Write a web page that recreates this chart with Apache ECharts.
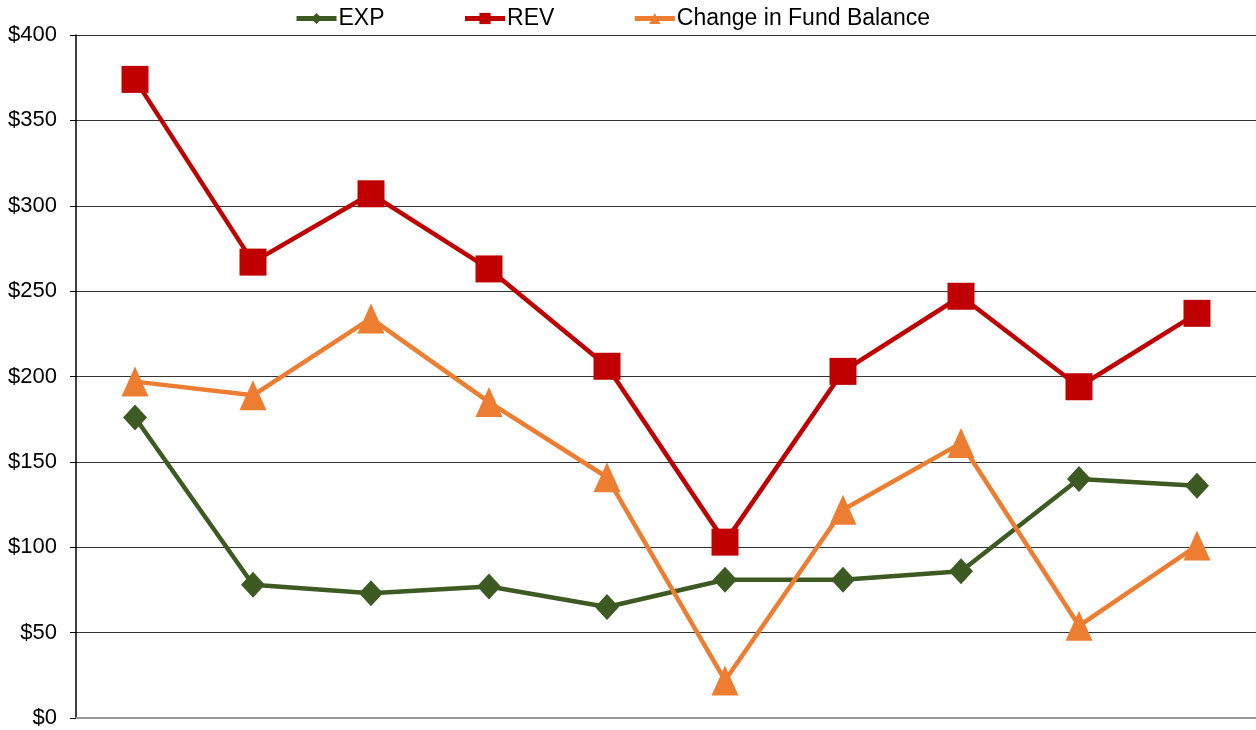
<!DOCTYPE html>
<html>
<head>
<meta charset="utf-8">
<script src="https://cdn.jsdelivr.net/npm/echarts@6/dist/echarts.min.js"></script>
<style>
  html, body { margin: 0; padding: 0; background: #fff; }
  #chart { width: 1256px; height: 730px; }
</style>
</head>
<body>
<div id="chart"></div>
<script>
var categories = ['1','2','3','4','5','6','7','8','9','10'];
var expData = [176, 78, 73, 77, 65, 81, 81, 86, 140, 136];
var revData = [374, 267, 307, 263, 206, 103, 203, 247, 194, 237];
var fundData = [197, 189, 234, 185, 141, 22, 122, 161, 54, 101];
var yTicks = [0, 50, 100, 150, 200, 250, 300, 350, 400];

var myChart = echarts.init(document.getElementById('chart'));
var font = 'Arial, "Liberation Sans", sans-serif';
var option = {
  animation: false,
  textStyle: { fontFamily: font },
  legend: {
    left: 289,
    top: 2,
    itemWidth: 40,
    itemHeight: 14,
    itemGap: 78,
    lineStyle: { width: 5 },
    textStyle: { fontSize: 23, color: '#000', fontFamily: font, padding: [0, 0, 0, -3] },
    data: ['EXP', 'REV', 'Change in Fund Balance']
  },
  grid: { left: 76, right: 0, top: 35, bottom: 12, containLabel: false, outerBoundsMode: 'none' },
  xAxis: {
    type: 'category',
    data: categories,
    boundaryGap: true,
    axisLabel: { show: false },
    axisTick: { show: false },
    axisLine: { lineStyle: { color: '#999', width: 2 } }
  },
  yAxis: {
    type: 'value',
    min: yTicks[0],
    max: yTicks[yTicks.length - 1],
    interval: 50,
    axisLine: { show: true, lineStyle: { color: '#000', width: 1.5 } },
    axisTick: { show: true, length: 6, lineStyle: { color: '#000' } },
    axisLabel: {
      fontSize: 22, color: '#000', margin: 19, fontFamily: font,
      formatter: function (v) { return '$' + v; }
    },
    splitLine: { lineStyle: { color: '#333', width: 1 } }
  },
  series: [{
    name: 'EXP',
    type: 'line',
    data: expData,
    symbol: 'diamond',
    symbolSize: [24, 26],
    itemStyle: { color: '#3D5A23' },
    lineStyle: { width: 4.5, color: '#3D5A23' }
  }, {
    name: 'REV',
    type: 'line',
    data: revData,
    symbol: 'rect',
    symbolSize: 27,
    itemStyle: { color: '#C00000' },
    lineStyle: { width: 4.5, color: '#C00000' }
  }, {
    name: 'Change in Fund Balance',
    type: 'line',
    data: fundData,
    symbol: 'triangle',
    symbolSize: [27, 30],
    itemStyle: { color: '#ED7D31' },
    lineStyle: { width: 4.5, color: '#ED7D31' }
  }]
};
myChart.setOption(option);
</script>
</body>
</html>
